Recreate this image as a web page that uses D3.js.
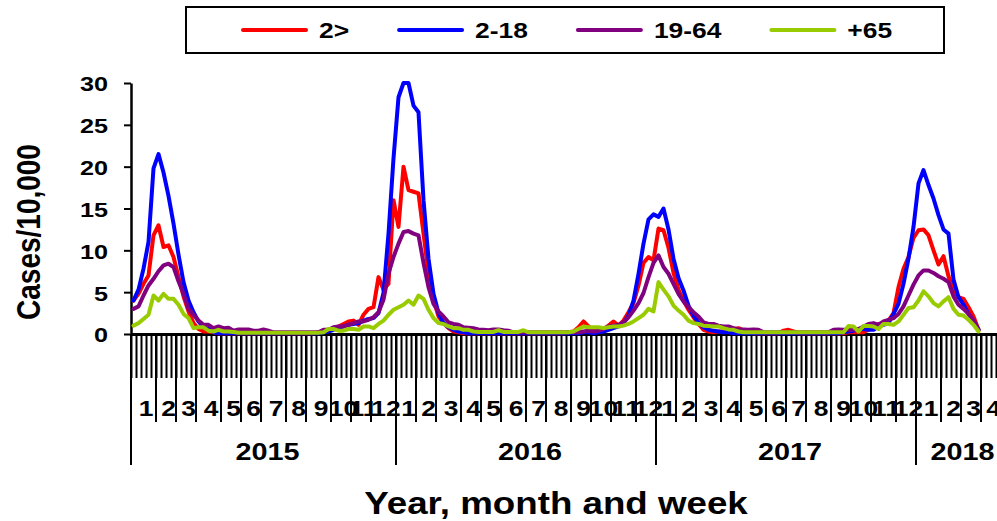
<!DOCTYPE html>
<html>
<head>
<meta charset="utf-8">
<script src="https://cdn.jsdelivr.net/npm/d3@7"></script>
<style>
  body { margin: 0; background: #fff; }
  svg { display: block; font-family: "Liberation Sans", Arial, sans-serif; font-weight: bold; }
</style>
</head>
<body>
<div id="wrapper"></div>
<script>
// weeks in each month, per year (x axis categories)
const years = ["2015", "2016", "2017", "2018"]
const weeks2015 = [5, 4, 4, 5, 4, 4, 5, 4, 5, 4, 4, 5]
const weeks2016 = [4, 4, 5, 4, 4, 5, 4, 5, 4, 4, 5, 4]
const weeks2017 = [4, 4, 5, 4, 5, 4, 4, 5, 4, 4, 5, 4]
const weeks2018 = [5, 4, 4, 4]

const seriesNames = ["2>", "2-18", "19-64", "+65"]
const seriesColors = ["#ff0000", "#0000ff", "#800080", "#99cc00"]
const yTicks = [0, 5, 10, 15, 20, 25, 30]

// weekly rates per 10,000
const under2 = [
  4.0, 4.8, 6.0, 7.0, 11.8, 13.0, 10.4, 10.6, 9.2, 6.8,
  4.5, 2.7, 1.3, 0.6, 0.3, 0.3, 0.2, 0.1, 0.1, 0.1,
  0.1, 0.1, 0.1, 0.1, 0.1, 0.1, 0.1, 0.1, 0.1, 0.1,
  0.1, 0.1, 0.1, 0.1, 0.1, 0.1, 0.1, 0.2, 0.4, 0.5,
  0.6, 0.9, 1.2, 1.5, 1.6, 1.1, 2.3, 3.0, 3.2, 6.8,
  5.3, 6.0, 16.0, 12.8, 20.0, 17.2, 17.0, 16.8, 12.0, 7.2,
  4.1, 2.1, 1.3, 0.7, 0.3, 0.2, 0.1, 0.1, 0.1, 0.1,
  0.1, 0.1, 0.1, 0.1, 0.1, 0.1, 0.1, 0.1, 0.1, 0.1,
  0.1, 0.1, 0.1, 0.1, 0.1, 0.1, 0.1, 0.2, 0.3, 0.8,
  1.5, 0.9, 0.5, 0.5, 0.6, 1.0, 1.5, 1.0, 1.6, 2.6,
  3.7, 5.8, 8.5, 9.2, 8.8, 12.6, 12.4, 10.3, 7.3, 5.3,
  4.0, 2.9, 2.0, 1.2, 0.5, 0.3, 0.2, 0.3, 0.3, 0.4,
  0.6, 0.7, 0.4, 0.2, 0.1, 0.1, 0.1, 0.1, 0.1, 0.1,
  0.4, 0.5, 0.3, 0.1, 0.1, 0.1, 0.1, 0.1, 0.1, 0.1,
  0.1, 0.1, 0.1, 0.2, 0.2, 0.2, 0.2, 0.5, 0.9, 1.2,
  1.3, 1.6, 2.5, 5.6, 7.8, 9.2, 11.5, 12.4, 12.5, 11.8,
  10.0, 8.3, 9.3, 6.9, 5.2, 4.4, 4.2, 3.2, 2.1, 0.5
]
const age2to18 = [
  4.0, 5.3, 7.8, 11.0, 19.8, 21.5, 19.3, 16.5, 13.2, 9.5,
  6.2, 4.0, 2.6, 1.5, 0.8, 0.6, 0.2, 0.1, 0.1, 0.1,
  0.1, 0.1, 0.1, 0.1, 0.1, 0.1, 0.1, 0.1, 0.1, 0.1,
  0.1, 0.1, 0.1, 0.1, 0.1, 0.1, 0.1, 0.1, 0.2, 0.3,
  0.5, 0.7, 0.9, 1.1, 1.2, 1.3, 1.6, 1.8, 1.9, 2.5,
  4.9, 12.0, 21.0, 28.3, 30.0, 30.0, 27.3, 26.5, 16.0, 9.0,
  4.8, 2.5, 1.3, 0.8, 0.5, 0.3, 0.2, 0.1, 0.1, 0.1,
  0.1, 0.1, 0.1, 0.1, 0.1, 0.1, 0.1, 0.1, 0.1, 0.1,
  0.1, 0.1, 0.1, 0.1, 0.1, 0.1, 0.1, 0.1, 0.1, 0.1,
  0.2, 0.2, 0.1, 0.2, 0.3, 0.5, 0.7, 0.9, 1.3, 2.2,
  4.0, 7.2, 10.8, 13.7, 14.3, 14.0, 15.0, 12.5, 9.0, 6.7,
  5.2, 3.4, 2.2, 1.4, 0.8, 0.5, 0.4, 0.3, 0.2, 0.2,
  0.1, 0.1, 0.1, 0.1, 0.1, 0.1, 0.1, 0.1, 0.1, 0.1,
  0.1, 0.1, 0.1, 0.1, 0.1, 0.1, 0.1, 0.1, 0.1, 0.1,
  0.1, 0.1, 0.2, 0.3, 0.4, 0.6, 0.6, 0.5, 0.5, 0.9,
  1.1, 1.3, 2.4, 3.6, 6.0, 9.0, 12.8, 18.0, 19.6, 17.8,
  16.2, 14.2, 12.5, 12.0, 6.5, 4.4, 3.5, 2.4, 1.6, 0.5
]
const age19to64 = [
  3.0, 3.3, 4.6, 5.8, 6.6, 7.5, 8.2, 8.4, 8.0, 6.3,
  4.8, 3.0, 2.3, 1.6, 1.1, 1.1, 0.7, 0.9, 0.7, 0.75,
  0.4, 0.55, 0.55, 0.55, 0.4, 0.4, 0.55, 0.4, 0.2, 0.2,
  0.2, 0.2, 0.2, 0.2, 0.2, 0.2, 0.2, 0.2, 0.5, 0.5,
  0.8, 0.9, 0.9, 1.1, 1.3, 1.5, 1.5, 1.7, 2.0, 2.6,
  4.1, 7.2, 9.2, 10.8, 12.2, 12.3, 12.0, 11.8, 8.5, 5.6,
  3.6, 2.7, 2.1, 1.4, 1.2, 1.1, 0.8, 0.75, 0.7, 0.55,
  0.5, 0.45, 0.55, 0.55, 0.45, 0.4, 0.2, 0.2, 0.2, 0.2,
  0.2, 0.2, 0.2, 0.2, 0.2, 0.2, 0.2, 0.2, 0.2, 0.2,
  0.3, 0.4, 0.3, 0.4, 0.6, 0.9, 1.0, 1.1, 1.4, 2.0,
  2.8, 3.7, 4.9, 6.8, 8.5, 9.4, 8.0, 7.2, 6.0, 4.8,
  3.9, 3.2, 2.6, 2.1, 1.4, 1.2, 1.2, 1.0, 0.9, 0.9,
  0.7, 0.55, 0.55, 0.5, 0.55, 0.5, 0.2, 0.2, 0.2, 0.2,
  0.2, 0.2, 0.2, 0.2, 0.2, 0.2, 0.2, 0.2, 0.2, 0.2,
  0.5, 0.55, 0.5, 0.5, 0.5, 0.6, 0.9, 1.2, 1.3, 1.1,
  1.5, 1.7, 1.9, 2.4, 3.3, 4.6, 5.9, 7.0, 7.6, 7.6,
  7.3, 6.9, 6.6, 6.2, 4.5, 3.5, 3.0, 2.4, 1.6, 0.5
]
const over65 = [
  1.0, 1.3, 1.8, 2.3, 4.6, 4.0, 4.8, 4.2, 4.2, 3.5,
  2.4, 1.9, 0.7, 0.8, 0.8, 0.4, 0.3, 0.5, 0.3, 0.3,
  0.25, 0.15, 0.15, 0.15, 0.15, 0.15, 0.15, 0.15, 0.15, 0.15,
  0.15, 0.15, 0.15, 0.15, 0.15, 0.15, 0.15, 0.15, 0.2, 0.6,
  0.6, 0.4, 0.4, 0.6, 0.6, 0.5, 0.9, 0.9, 0.7, 1.2,
  1.6, 2.3, 2.9, 3.2, 3.5, 4.0, 3.5, 4.6, 4.2, 2.9,
  1.9, 1.3, 1.2, 0.9, 0.7, 0.7, 0.5, 0.5, 0.3, 0.25,
  0.25, 0.25, 0.25, 0.45, 0.25, 0.25, 0.25, 0.25, 0.45, 0.2,
  0.2, 0.2, 0.2, 0.2, 0.2, 0.2, 0.2, 0.2, 0.3, 0.6,
  0.9, 0.8, 0.8, 0.8, 0.7, 0.8, 0.9, 0.9, 1.0, 1.2,
  1.5, 1.9, 2.3, 3.0, 2.7, 6.2, 5.3, 4.5, 3.4, 2.8,
  2.3, 1.6, 1.3, 1.2, 1.0, 0.95, 0.9, 0.9, 0.7, 0.55,
  0.5, 0.3, 0.2, 0.2, 0.2, 0.2, 0.2, 0.2, 0.2, 0.2,
  0.2, 0.2, 0.2, 0.2, 0.2, 0.2, 0.2, 0.2, 0.2, 0.2,
  0.2, 0.2, 0.2, 0.95, 0.9, 0.3, 0.95, 0.95, 0.9, 0.6,
  1.2, 1.2, 1.1, 1.5, 2.3, 3.1, 3.2, 4.0, 5.1, 4.5,
  3.7, 3.3, 3.9, 4.4, 3.0, 2.3, 2.2, 1.7, 1.1, 0.3
]
const series = [under2, age2to18, age19to64, over65]

function drawChart() {
    const dimensions = {
        width: 997,
        height: 521,
        plotLeft: 131,
        plotTop: 83,
        plotBottom: 334,
        weekWidth: 5,
    }
    const stretch = 1.2   // the original picture is a bit wider than tall

    // flatten the month/week structure into a list of week categories
    const monthWeeks = [weeks2015, weeks2016, weeks2017, weeks2018]
    const months = []
    const yearSpans = []
    let n = 0
    monthWeeks.forEach((ms, yi) => {
        const yearStart = n
        ms.forEach((w, mi) => {
            months.push({ label: String(mi + 1), start: n, count: w, first: mi === 0 })
            n += w
        })
        yearSpans.push({ label: years[yi], start: yearStart, count: n - yearStart })
    })
    const N = n

    const svg = d3.select("#wrapper")
        .append("svg")
        .attr("width", dimensions.width)
        .attr("height", dimensions.height)

    const xScale = d3.scaleLinear()
        .domain([0, N])
        .range([dimensions.plotLeft, dimensions.plotLeft + N * dimensions.weekWidth])
    const yScale = d3.scaleLinear()
        .domain([0, 30])
        .range([dimensions.plotBottom, dimensions.plotTop])

    // week ticks under the axis
    const xAxis = svg.append("g")
        .attr("transform", `translate(0,${dimensions.plotBottom})`)
        .call(d3.axisBottom(xScale)
            .tickValues(d3.range(N + 1))
            .tickSize(44)
            .tickSizeOuter(0)
            .tickFormat(""))
    xAxis.selectAll(".tick line").attr("stroke", "#000").attr("stroke-width", 2)
    xAxis.select(".domain").attr("stroke", "#000").attr("stroke-width", 3)

    // month and year separators
    const sep = svg.append("g").attr("stroke", "#000").attr("stroke-width", 2)
    sep.selectAll(".month-sep")
        .data(months.filter(m => !m.first))
        .join("line")
        .attr("x1", d => xScale(d.start)).attr("x2", d => xScale(d.start))
        .attr("y1", dimensions.plotBottom).attr("y2", 422)
    sep.selectAll(".year-sep")
        .data(yearSpans)
        .join("line")
        .attr("x1", d => xScale(d.start)).attr("x2", d => xScale(d.start))
        .attr("y1", dimensions.plotBottom).attr("y2", 465)

    svg.append("g")
        .selectAll("text")
        .data(months)
        .join("text")
        .attr("transform", d => `translate(${xScale(d.start + d.count / 2) + 2.5},416) scale(${stretch},1)`)
        .attr("text-anchor", "middle")
        .attr("font-size", 22)
        .text(d => d.label)

    svg.append("g")
        .selectAll("text")
        .data(yearSpans)
        .join("text")
        .attr("transform", d => `translate(${xScale(d.start + d.count / 2) + 4},460) scale(${stretch},1)`)
        .attr("text-anchor", "middle")
        .attr("font-size", 24)
        .text(d => d.label)

    // y axis
    const yAxis = svg.append("g")
        .attr("transform", `translate(${dimensions.plotLeft},0)`)
        .call(d3.axisLeft(yScale).tickValues(yTicks).tickSize(7).tickSizeOuter(0))
    yAxis.attr("font-family", null).attr("font-size", null)
    yAxis.select(".domain").attr("stroke", "#000").attr("stroke-width", 2.5)
    yAxis.selectAll(".tick line").attr("stroke", "#000").attr("stroke-width", 2)
    yAxis.selectAll(".tick text")
        .attr("x", 0)
        .attr("dy", "0.38em")
        .attr("transform", `translate(-23,0) scale(${stretch},1)`)
        .attr("font-size", 21)
        .attr("fill", "#000")

    // lines
    const lineGenerator = d3.line()
        .x((d, i) => xScale(i + 0.5))
        .y(d => yScale(d))
    svg.append("g")
        .selectAll("path")
        .data(series)
        .join("path")
        .attr("d", d => lineGenerator(d))
        .attr("fill", "none")
        .attr("stroke", (d, i) => seriesColors[i])
        .attr("stroke-width", 4)
        .attr("stroke-linejoin", "round")
        .attr("stroke-linecap", "round")

    // axis titles
    svg.append("text")
        .attr("transform", `translate(28,232) rotate(-90) scale(1,${stretch})`)
        .attr("text-anchor", "middle")
        .attr("dy", "0.35em")
        .attr("font-size", 28)
        .text("Cases/10,000")
    svg.append("text")
        .attr("transform", `translate(556,514) scale(${stretch},1)`)
        .attr("text-anchor", "middle")
        .attr("font-size", 30.6)
        .text("Year, month and week")

    // legend
    const legend = svg.append("g")
    legend.append("rect")
        .attr("x", 186).attr("y", 7)
        .attr("width", 758).attr("height", 46)
        .attr("fill", "none").attr("stroke", "#000").attr("stroke-width", 2)
    let lx = 243
    seriesNames.forEach((name, i) => {
        legend.append("line")
            .attr("x1", lx).attr("x2", lx + 63)
            .attr("y1", 30).attr("y2", 30)
            .attr("stroke", seriesColors[i])
            .attr("stroke-width", 4)
            .attr("stroke-linecap", "round")
        const t = legend.append("text")
            .attr("transform", `translate(${lx + 76},38) scale(${stretch},1)`)
            .attr("font-size", 22)
            .text(name)
        lx += 76 + t.node().getComputedTextLength() * stretch + 50
    })
}

drawChart()
</script>
</body>
</html>
